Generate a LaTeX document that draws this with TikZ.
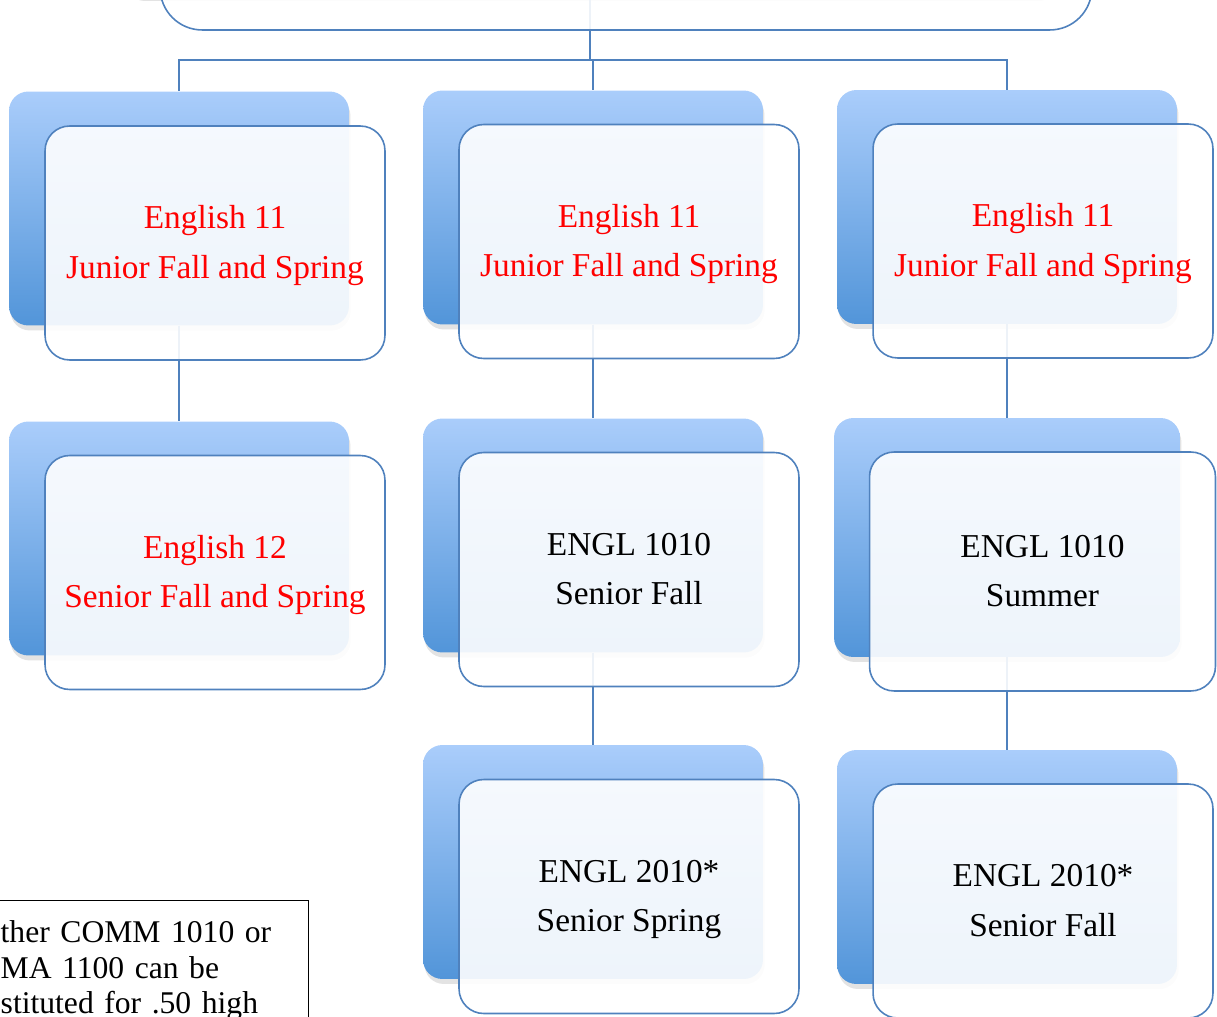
\documentclass[tikz,border=0pt]{standalone}
\usepackage{fontspec}
\setmainfont{Liberation Serif}
\usepackage{xcolor}
\usepackage{tikz}
\usetikzlibrary{shadows}
\definecolor{linkblue}{RGB}{79,129,189}
\definecolor{backtop}{RGB}{170,205,251}
\definecolor{backbot}{RGB}{82,149,217}
\tikzset{backbox/.style = {rectangle, rounded corners=11pt,
    minimum width=6.8cm, minimum height=4.68cm,
    top color=backtop, bottom color=backbot,
    drop shadow={opacity=0.22, shadow xshift=0.03cm, shadow yshift=-0.1cm}},
  frontbox/.style = {rectangle, rounded corners=14pt,
    minimum width=6.8cm, minimum height=4.68cm,
    draw=linkblue, line width=0.9pt, fill=white, fill opacity=0.9,
    text opacity=1, align=center, text height=40pt, text depth=0pt,
    font=\fontsize{19}{28}\selectfont},
  link/.style = {draw=linkblue, line width=1.1pt},
  notebox/.style = {rectangle, draw=black, line width=0.8pt, align=left,
    text width=5.76cm, inner xsep=0.4cm, inner ysep=11.5pt, text depth=70pt,
    font=\fontsize{18}{20}\selectfont}}

\begin{document}
\begin{tikzpicture}[x=0.02cm, y=-0.02cm]
  \useasboundingbox (0,0) rectangle (1217,1017);
  \clip (0,0) rectangle (1217,1017);

  % back cards
  \node[backbox, minimum width=18.64cm, minimum height=4cm] (tb) at (590,-104) {};
  \node[backbox] (b11) at (179,208.5) {};
  \node[backbox] (b12) at (179,538.5) {};
  \node[backbox] (b21) at (593,207.5) {};
  \node[backbox] (b22) at (593,535.5) {};
  \node[backbox] (b23) at (593,862) {};
  \node[backbox] (b31) at (1007,207) {};
  \node[backbox, minimum width=6.92cm, minimum height=4.78cm] (b32) at (1007,537.5) {};
  \node[backbox] (b33) at (1007,867) {};

  % connectors
  \coordinate (hub) at (590,60);
  \draw[link] (tb.south) -- (hub);
  \draw[link] (hub) -| (b11.north);
  \draw[link] (hub) -| (b21.north);
  \draw[link] (hub) -| (b31.north);
  \draw[link] (b11.south) -- (b12.north);
  \draw[link] (b21.south) -- (b22.north);
  \draw[link] (b22.south) -- (b23.north);
  \draw[link] (b31.south) -- (b32.north);
  \draw[link] (b32.south) -- (b33.north);

  % front cards
  \node[frontbox, rounded corners=24pt, minimum width=18.64cm, minimum height=4cm] (tf) at (626,-70) {};
  \node[frontbox, text=red] (f11) at (215,243) {English 11\\Junior Fall and Spring};
  \node[frontbox, text=red] (f12) at (215,572.5) {English 12\\Senior Fall and Spring};
  \node[frontbox, text=red] (f21) at (629,241.5) {English 11\\Junior Fall and Spring};
  \node[frontbox] (f22) at (629,569.5) {ENGL 1010\\Senior Fall};
  \node[frontbox] (f23) at (629,896.5) {ENGL 2010*\\Senior Spring};
  \node[frontbox, text=red] (f31) at (1043,241) {English 11\\Junior Fall and Spring};
  \node[frontbox, minimum width=6.92cm, minimum height=4.78cm] (f32) at (1042.5,571.5) {ENGL 1010\\Summer};
  \node[frontbox] (f33) at (1043,901) {ENGL 2010*\\Senior Fall};

  \node[notebox, anchor=north west] (note) at (-20,900)
    {ther COMM 1010 or\\MA 1100 can be\\stituted for .50 high};
\end{tikzpicture}
\end{document}
